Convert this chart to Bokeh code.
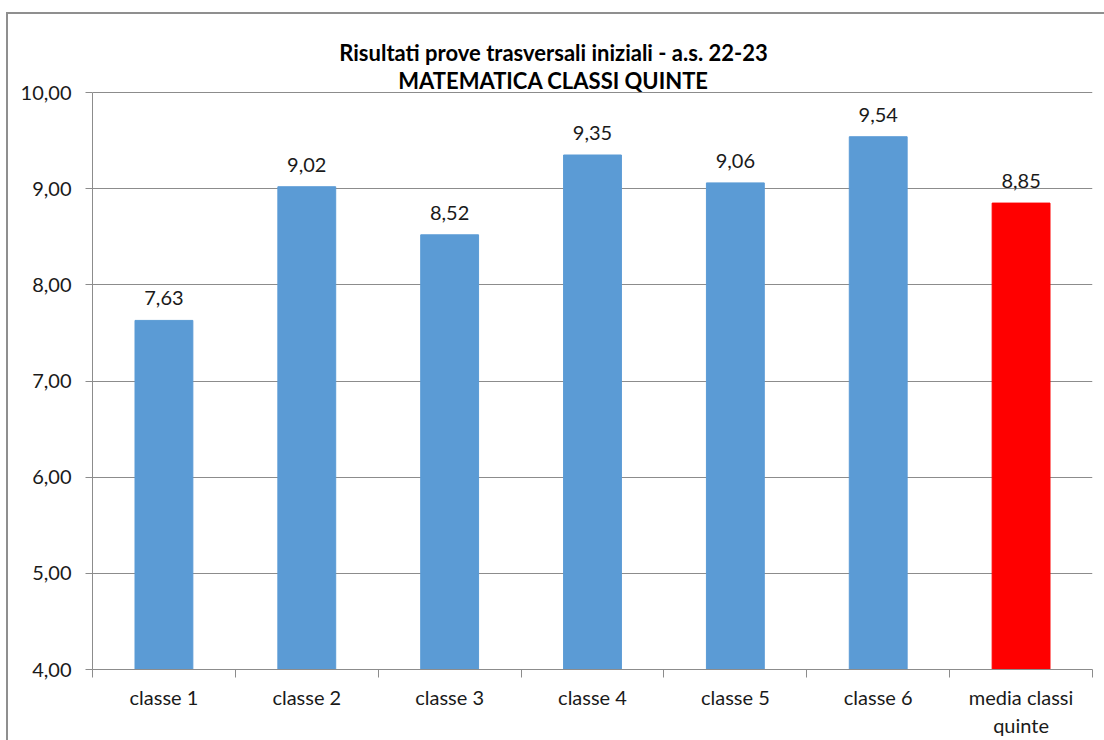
from bokeh.plotting import figure
from bokeh.models import (ColumnDataSource, Range1d, Label, LabelSet,
                          FixedTicker, LinearAxis)
from bokeh.core.properties import value
from bokeh.layouts import column
from bokeh.embed import file_html
from bokeh.resources import INLINE

# ---- data ----
categories = ["classe 1", "classe 2", "classe 3", "classe 4", "classe 5", "classe 6",
              "media classi\nquinte"]
values = [7.63, 9.02, 8.52, 9.35, 9.06, 9.54, 8.85]
value_labels = ["7,63", "9,02", "8,52", "9,35", "9,06", "9,54", "8,85"]
bar_colors = ["#5B9BD5"] * 6 + ["#FF0000"]
y_ticks = [4, 5, 6, 7, 8, 9, 10]
y_tick_labels = ["4,00", "5,00", "6,00", "7,00", "8,00", "9,00", "10,00"]
title_lines = ["Risultati prove trasversali iniziali - a.s. 22-23",
               "MATEMATICA CLASSI QUINTE"]

FONT = "Lato"
GRID = "#8c8c8c"
TXT = "#1a1a1a"

# layout (pixels): figure origin at (8, 14); frame spans x 92..1092, y 14..669,
# value axis 10 sits at y=92
FIG_TOP, AXIS_TOP, AXIS_BOTTOM = 14, 92, 669
px_per_unit = (AXIS_BOTTOM - AXIS_TOP) / (y_ticks[-1] - y_ticks[0])
y_max = y_ticks[-1] + (AXIS_TOP - FIG_TOP) / px_per_unit

n = len(categories)
centers = [i + 0.5 for i in range(n)]
src = ColumnDataSource(dict(x=centers, val=values, lbl=value_labels, color=bar_colors))

p = figure(width=1096, height=726,
           x_range=Range1d(0, n), y_range=Range1d(y_ticks[0], y_max),
           output_backend="svg", toolbar_location=None, x_axis_location=None,
           min_border_left=84, min_border_top=0, min_border_right=12, min_border_bottom=71)
p.outline_line_color = None
p.background_fill_color = "white"
p.border_fill_color = "white"

p.vbar(x="x", top="val", bottom=y_ticks[0], width=0.405, color="color", source=src)

p.add_layout(LabelSet(x="x", y="val", text="lbl", source=src, y_offset=15,
                      text_align="center", text_baseline="alphabetic",
                      text_font=value(FONT), text_font_size="20px", text_color=TXT))

# y axis
ya = p.yaxis[0]
ya.ticker = FixedTicker(ticks=y_ticks)
ya.bounds = (y_ticks[0], y_ticks[-1])
ya.major_label_overrides = {t: l for t, l in zip(y_ticks, y_tick_labels)}
ya.axis_line_color = GRID
ya.major_tick_line_color = GRID
ya.major_tick_out = 7
ya.major_tick_in = 0
ya.minor_tick_line_color = None
ya.major_label_text_font = FONT
ya.major_label_text_font_size = "20px"
ya.major_label_text_color = TXT
ya.major_label_standoff = 14
p.ygrid.grid_line_color = GRID
p.xgrid.grid_line_color = None

# x axis: boundary ticks, then category labels
tick_axis = LinearAxis(ticker=FixedTicker(ticks=list(range(n + 1))),
                       axis_line_color=GRID, major_tick_line_color=GRID,
                       major_tick_out=8, major_tick_in=0, minor_tick_line_color=None,
                       major_label_text_font_size="1px", major_label_text_color=None,
                       major_label_standoff=0)
p.add_layout(tick_axis, "below")
cat_axis = LinearAxis(ticker=FixedTicker(ticks=centers),
                      major_label_overrides={c: l for c, l in zip(centers, categories)},
                      axis_line_color=None, major_tick_line_color=None,
                      minor_tick_line_color=None,
                      major_label_text_font=FONT, major_label_text_font_size="20px",
                      major_label_text_color=TXT, major_label_standoff=1)
p.add_layout(cat_axis, "below")

# title (two centred lines above the plot)
p.add_layout(Label(x=3.227, y=10.419, text=title_lines[0],
                   text_align="center", text_baseline="alphabetic", text_font=FONT,
                   text_font_style="bold", text_font_size="22px", text_color="black"))
p.add_layout(Label(x=3.227, y=10.120, text=title_lines[1],
                   text_align="center", text_baseline="alphabetic", text_font=FONT,
                   text_font_style="bold", text_font_size="22px", text_color="black"))

layout = column(p, styles={"border-top": "2px solid #8f8f8f", "border-left": "2px solid #8f8f8f",
                           "margin-top": "12px", "margin-left": "6px"})

open("out.html", "w").write(file_html(layout, INLINE))
